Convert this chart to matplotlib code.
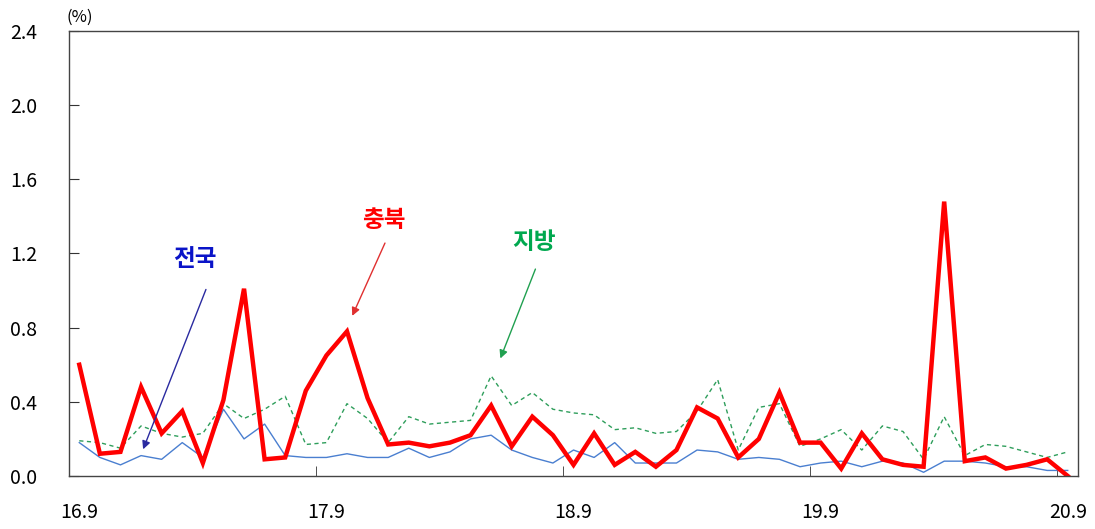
import matplotlib
matplotlib.use('Agg')
import matplotlib.pyplot as plt
import numpy as np

plt.rcParams['font.family'] = ['Noto Sans CJK KR', 'DejaVu Sans']

# Monthly series, 16.9 ~ 20.9 (49 months)
months = ['%d.%d' % (16 + (8 + i) // 12, (8 + i) % 12 + 1) for i in range(49)]

# 충북 (red, thick)
chungbuk = [0.60, 0.12, 0.13, 0.48, 0.23, 0.35, 0.07, 0.41, 1.01, 0.09,
            0.10, 0.46, 0.65, 0.78, 0.42, 0.17, 0.18, 0.16, 0.18, 0.22,
            0.38, 0.16, 0.32, 0.22, 0.06, 0.23, 0.06, 0.13, 0.05, 0.14,
            0.37, 0.31, 0.10, 0.20, 0.45, 0.18, 0.18, 0.04, 0.23, 0.09,
            0.06, 0.05, 1.48, 0.08, 0.10, 0.04, 0.06, 0.09, 0.00]
# 전국 (blue, thin)
national = [0.18, 0.10, 0.06, 0.11, 0.09, 0.18, 0.10, 0.36, 0.20, 0.28,
            0.11, 0.10, 0.10, 0.12, 0.10, 0.10, 0.15, 0.10, 0.13, 0.20,
            0.22, 0.14, 0.10, 0.07, 0.14, 0.10, 0.18, 0.07, 0.07, 0.07,
            0.14, 0.13, 0.09, 0.10, 0.09, 0.05, 0.07, 0.08, 0.05, 0.08,
            0.07, 0.02, 0.08, 0.08, 0.07, 0.05, 0.05, 0.03, 0.03]
# 지방 (green, dashed)
local = [0.19, 0.18, 0.15, 0.27, 0.23, 0.21, 0.23, 0.39, 0.31, 0.36,
         0.43, 0.17, 0.18, 0.39, 0.31, 0.18, 0.32, 0.28, 0.29, 0.30,
         0.54, 0.38, 0.45, 0.36, 0.34, 0.33, 0.25, 0.26, 0.23, 0.24,
         0.35, 0.52, 0.14, 0.37, 0.39, 0.16, 0.20, 0.25, 0.14, 0.27,
         0.24, 0.09, 0.32, 0.11, 0.17, 0.16, 0.13, 0.10, 0.13]

y_ticks = [0.0, 0.4, 0.8, 1.2, 1.6, 2.0, 2.4]

x = np.arange(len(months))

fig = plt.figure(figsize=(10.95, 5.29), dpi=100)
ax = fig.add_axes([0.063, 0.1002, 0.9215, 0.8412])

ax.plot(x, local, color='#2E9E5B', lw=1.0, ls=(0, (3, 2.5)))
ax.plot(x, national, color='#4A7FD0', lw=1.0)
ax.plot(x, chungbuk, color='#FF0000', lw=3.2, solid_joinstyle='miter')

ax.set_xlim(-0.5, len(months) - 0.5)
ax.set_ylim(0, 2.4)

# labels at every 12th month, tick marks at category boundaries (Excel style)
lab_idx = list(range(0, len(months), 12))
ax.set_xticks(lab_idx)
ax.set_xticklabels([months[i] for i in lab_idx], fontsize=14)
ax.tick_params(axis='x', length=0, pad=19)
ax.set_xticks([i - 0.5 for i in lab_idx[1:]], minor=True)
ax.tick_params(axis='x', which='minor', direction='in', length=7, color='#333333')

ax.set_yticks(y_ticks)
ax.set_yticklabels(['%.1f' % v for v in y_ticks], fontsize=14)
ax.tick_params(axis='y', direction='in', length=7, pad=23, color='#333333')

for s in ax.spines.values():
    s.set_color('#444444')
    s.set_linewidth(1.0)

ax.text(-0.6, 2.43, '(%)', fontsize=12, ha='left', va='bottom')

# annotations
ax.annotate('', xy=(3.05, 0.13), xytext=(6.2, 1.02),
            arrowprops=dict(arrowstyle='-|>', color='#2A2AA0', lw=1.0, mutation_scale=12))
ax.text(5.6, 1.17, '전국', color='#0A14C8', fontsize=17, fontweight='bold', ha='center', va='center')

ax.annotate('', xy=(13.2, 0.85), xytext=(14.9, 1.27),
            arrowprops=dict(arrowstyle='-|>', color='#E03030', lw=1.0, mutation_scale=12))
ax.text(14.8, 1.38, '충북', color='#FF0000', fontsize=17, fontweight='bold', ha='center', va='center')

ax.annotate('', xy=(20.4, 0.62), xytext=(22.2, 1.13),
            arrowprops=dict(arrowstyle='-|>', color='#20A050', lw=1.0, mutation_scale=12))
ax.text(22.1, 1.26, '지방', color='#00A84F', fontsize=17, fontweight='bold', ha='center', va='center')

fig.savefig('out.png', dpi=100)
